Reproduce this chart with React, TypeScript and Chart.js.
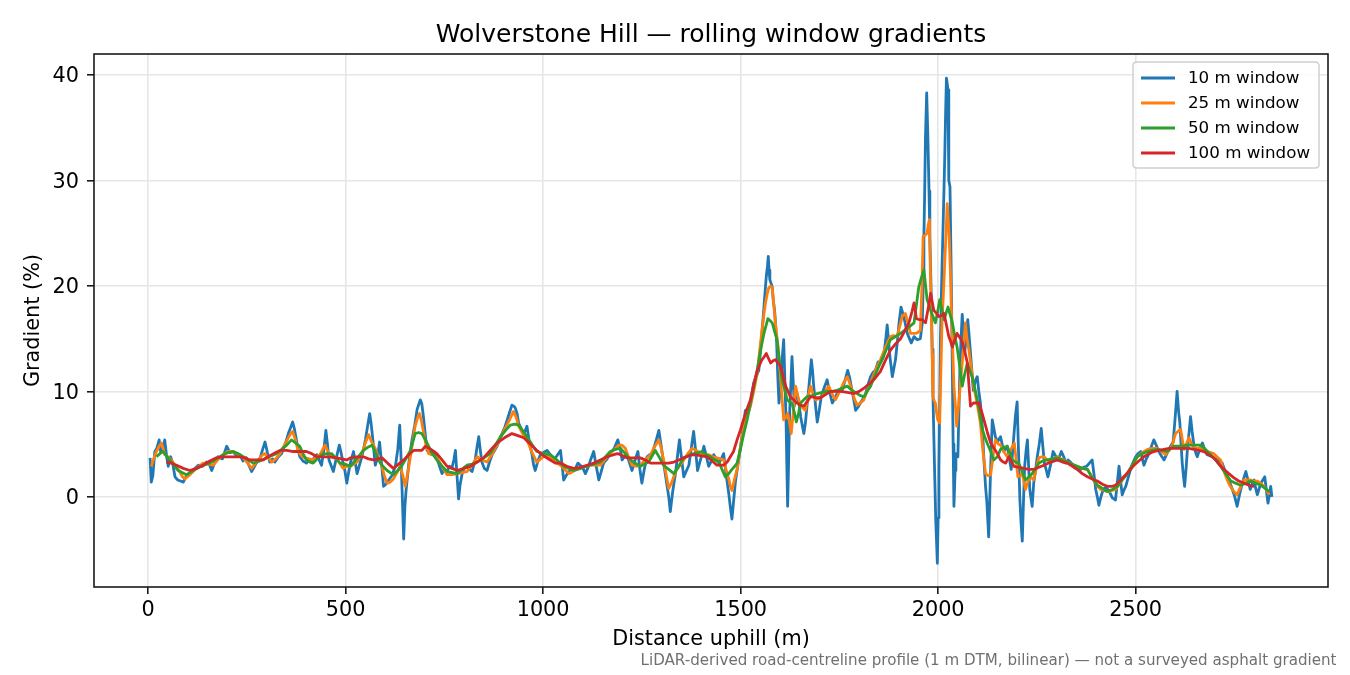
import React, { useEffect, useRef } from 'react';
import { Chart, registerables } from 'chart.js';

Chart.register(...registerables);

const chartTitle = 'Wolverstone Hill — rolling window gradients';
const xAxisTitle = 'Distance uphill (m)';
const yAxisTitle = 'Gradient (%)';
const footerNote = 'LiDAR-derived road-centreline profile (1 m DTM, bilinear) — not a surveyed asphalt gradient';

const seriesLabels = ['10 m window', '25 m window', '50 m window', '100 m window'];
const xTicks = [0, 500, 1000, 1500, 2000, 2500];
const yTicks = [0, 10, 20, 30, 40];

const dist10 = [5,8,12,17,22,28,32,37,42,47,51,57,62,68,75,82,89,97,106,116,127,138,148,155,161,168,177,188,199,207,215,224,232,240,249,255,262,268,275,283,290,296,302,308,315,321,330,338,347,355,361,366,370,374,379,384,392,401,408,414,420,427,433,439,445,450,454,458,463,469,476,484,488,492,498,503,508,512,520,529,535,541,546,550,556,561,565,569,575,580,586,591,596,602,609,617,626,632,637,640,643,647,650,653,660,668,675,681,689,693,697,702,706,712,718,724,730,737,744,750,757,763,769,774,778,782,786,790,795,801,807,814,820,828,833,837,841,845,851,858,865,871,877,883,890,896,903,909,915,921,926,930,934,938,945,951,955,959,965,972,976,980,986,993,1001,1010,1018,1027,1035,1044,1048,1052,1058,1065,1073,1082,1088,1094,1101,1107,1114,1121,1128,1134,1141,1147,1153,1162,1170,1180,1189,1195,1200,1206,1212,1218,1225,1232,1240,1245,1250,1256,1263,1270,1276,1285,1293,1299,1305,1312,1318,1322,1328,1335,1340,1345,1350,1356,1362,1369,1375,1381,1386,1391,1399,1407,1413,1419,1426,1432,1438,1445,1451,1457,1463,1470,1474,1478,1482,1487,1493,1500,1506,1512,1517,1521,1527,1533,1540,1546,1552,1556,1559,1562,1565,1568,1570,1572,1574,1580,1583,1586,1591,1594,1597,1600,1603,1606,1609,1612,1615,1617,1619,1621,1624,1627,1630,1633,1636,1640,1643,1648,1652,1656,1660,1664,1668,1673,1679,1682,1685,1690,1694,1699,1704,1711,1719,1725,1732,1738,1744,1750,1757,1764,1771,1776,1780,1786,1791,1797,1803,1810,1816,1822,1829,1835,1841,1848,1854,1862,1867,1871,1875,1878,1884,1892,1897,1901,1906,1913,1922,1932,1939,1947,1955,1960,1962,1964,1966,1968,1971,1974,1977,1979,1983,1985,1987,1989,1991,1994,1998,2000,2002,2004,2006,2010,2013,2017,2019,2021,2023,2025,2027,2030,2033,2036,2038,2040,2043,2045,2050,2055,2058,2061,2064,2067,2071,2075,2078,2082,2089,2094,2099,2103,2107,2112,2116,2120,2123,2128,2132,2137,2141,2145,2150,2158,2166,2175,2185,2189,2193,2196,2200,2203,2207,2210,2213,2216,2219,2223,2226,2229,2232,2238,2242,2247,2251,2256,2261,2265,2269,2274,2278,2285,2291,2297,2303,2308,2312,2318,2323,2329,2335,2341,2348,2355,2361,2368,2376,2383,2390,2395,2399,2403,2407,2412,2418,2424,2430,2436,2441,2445,2449,2454,2458,2462,2466,2470,2475,2481,2487,2493,2500,2506,2513,2517,2521,2527,2534,2540,2546,2552,2559,2565,2572,2578,2584,2590,2595,2600,2605,2609,2612,2615,2618,2621,2624,2628,2631,2635,2639,2643,2648,2652,2656,2662,2669,2675,2681,2688,2694,2700,2707,2713,2719,2726,2732,2739,2745,2751,2757,2763,2768,2774,2779,2785,2790,2795,2800,2804,2808,2813,2817,2822,2827,2831,2835,2839,2842,2845];
const grad10 = [3.7,1.4,2.0,4.3,4.6,5.4,4.2,4.4,5.4,3.8,2.9,3.8,3.2,1.9,1.6,1.5,1.4,2.0,2.2,2.6,3.0,2.9,3.3,3.1,2.5,3.2,3.8,3.6,4.8,4.2,4.3,3.9,4.0,3.4,3.7,3.0,2.4,2.8,3.3,3.6,4.5,5.2,4.2,3.3,3.6,3.3,3.8,4.1,5.0,6.0,6.6,7.1,6.5,5.7,4.6,3.8,3.4,3.2,3.5,3.3,3.7,4.0,3.5,3.0,4.5,6.3,5.0,3.5,3.0,2.4,3.6,4.9,4.3,3.5,2.5,1.3,2.4,3.2,4.3,2.2,3.0,3.8,4.6,5.4,6.8,7.9,6.8,5.4,3.0,3.6,5.2,3.2,1.0,1.2,1.6,2.0,2.9,4.5,6.8,4.0,0.6,-4.0,-1.0,0.6,3.2,5.4,6.8,8.3,9.2,8.8,7.6,5.8,4.4,4.2,4.0,4.3,3.8,3.0,2.2,2.6,2.4,2.9,2.7,3.5,4.4,2.0,-0.2,1.2,2.2,2.8,2.9,2.6,2.4,3.5,4.8,5.7,4.4,3.3,2.7,2.5,3.4,4.0,4.4,4.8,5.4,6.0,6.6,7.3,8.0,8.7,8.6,8.4,7.9,7.0,6.4,6.0,6.3,6.7,5.2,4.0,3.0,2.5,3.3,4.0,4.2,4.4,4.0,3.5,3.9,4.4,3.0,1.6,2.0,2.4,2.5,2.7,3.2,3.0,2.7,2.2,2.8,3.6,4.3,3.0,1.6,2.4,3.2,3.6,4.1,4.6,5.4,4.6,3.5,3.8,4.1,3.3,2.5,3.4,4.3,2.6,1.3,2.6,3.8,4.0,4.1,5.2,6.3,4.8,3.2,1.5,0.0,-1.4,0.5,2.2,3.8,5.4,3.8,1.9,2.4,3.0,4.6,6.2,4.4,2.5,3.6,4.8,3.9,2.9,3.4,4.0,3.6,3.2,3.6,4.1,2.2,0.3,-1.0,-2.1,-0.5,1.5,3.0,4.8,6.5,8.2,8.3,8.2,9.5,10.8,11.5,12.0,14.5,16.5,18.0,19.5,20.9,21.9,22.8,21.5,20.6,19.9,18.5,17.7,14.9,11.5,8.9,10.0,11.7,13.5,14.9,11.0,7.3,3.0,-0.9,2.5,7.9,10.5,13.3,11.0,8.6,9.8,9.8,8.8,7.6,6.8,6.0,7.0,8.6,10.5,13.0,12.0,10.5,8.5,7.1,8.2,9.5,10.3,11.1,10.0,8.9,9.3,9.8,10.0,10.1,11.0,12.0,11.3,10.5,9.3,8.2,8.5,8.9,9.3,9.7,10.6,11.4,11.8,12.0,12.8,12.7,13.3,14.8,16.3,14.6,13.3,11.4,13.0,14.8,16.5,18.0,17.1,15.5,14.6,15.2,14.9,15.0,16.5,20.0,24.7,29.0,34.2,38.3,34.2,29.0,24.7,18.4,14.0,9.5,6.0,2.6,-2.2,-6.3,-2.0,2.6,9.0,15.2,22.0,26.3,32.6,36.5,39.7,39.2,38.6,30.0,29.4,21.5,12.0,5.0,-0.9,2.5,4.1,3.8,12.0,15.0,17.3,15.5,13.6,15.0,16.8,15.5,13.6,10.1,11.0,11.4,10.0,8.9,6.5,3.5,1.0,-0.3,-3.8,1.5,7.3,6.5,5.7,5.2,5.7,4.3,4.8,2.6,4.5,6.4,7.8,9.0,5.0,-0.3,-2.5,-4.2,-0.5,2.9,4.5,5.4,3.0,0.7,-0.9,1.3,2.6,3.8,5.0,6.5,4.8,3.2,2.5,1.9,3.1,4.3,3.9,3.5,3.9,4.3,3.8,3.2,3.5,3.3,3.0,2.7,2.8,2.6,2.8,2.9,3.2,3.5,2.0,0.7,0.0,-0.8,0.0,0.7,0.9,0.7,0.3,-0.1,-0.2,-0.3,1.5,2.9,1.5,0.2,0.6,1.0,1.8,2.6,3.2,3.8,4.1,4.3,3.6,3.0,3.6,4.1,4.8,5.4,4.9,4.3,3.9,3.5,4.0,4.5,4.9,5.2,7.5,10.0,8.0,7.0,5.0,3.2,2.0,1.0,2.8,4.5,6.0,7.6,6.2,4.8,4.2,3.8,4.5,5.1,4.5,4.0,3.9,3.8,3.6,3.5,3.3,3.2,2.5,1.9,1.3,0.7,0.0,-0.9,0.2,1.0,1.8,2.4,1.5,0.7,1.2,1.6,0.8,0.2,0.8,1.3,1.6,1.9,0.6,-0.6,0.3,1.0,0.0];

const dist25 = [8,14,21,28,34,38,42,50,59,68,80,87,93,103,114,126,139,152,165,178,190,203,215,228,241,252,262,272,283,290,296,304,313,323,334,345,355,361,366,373,380,388,397,408,418,427,435,442,448,455,461,469,477,485,494,503,512,520,529,535,541,550,558,566,575,583,592,598,605,613,621,630,638,645,651,658,664,670,676,682,687,692,697,703,710,720,731,744,757,770,782,795,807,820,833,845,858,870,883,894,904,915,925,931,938,948,959,971,984,997,1010,1022,1035,1044,1055,1065,1080,1094,1107,1120,1133,1145,1158,1170,1180,1191,1200,1208,1216,1225,1235,1246,1258,1272,1283,1293,1299,1305,1312,1318,1326,1335,1345,1356,1366,1377,1388,1398,1408,1419,1430,1440,1449,1457,1463,1470,1474,1478,1484,1491,1499,1508,1517,1525,1533,1542,1548,1554,1559,1563,1567,1571,1576,1580,1584,1588,1594,1599,1604,1609,1614,1619,1624,1628,1634,1639,1645,1652,1658,1664,1670,1677,1683,1690,1698,1706,1714,1723,1731,1740,1748,1757,1763,1770,1776,1782,1788,1795,1803,1812,1820,1829,1837,1846,1854,1867,1879,1887,1896,1903,1909,1917,1924,1930,1937,1943,1949,1955,1959,1962,1967,1972,1975,1978,1980,1982,1985,1987,1990,1993,1996,1999,2004,2007,2010,2013,2016,2020,2023,2026,2028,2031,2033,2037,2040,2044,2047,2050,2053,2057,2061,2065,2069,2073,2078,2084,2090,2099,2107,2113,2120,2127,2133,2139,2145,2153,2158,2166,2175,2184,2193,2202,2207,2213,2217,2221,2226,2232,2237,2242,2248,2255,2262,2268,2276,2285,2293,2302,2310,2318,2327,2335,2344,2352,2365,2378,2386,2394,2402,2411,2421,2432,2440,2449,2457,2466,2476,2487,2495,2504,2517,2530,2542,2555,2566,2576,2585,2593,2597,2601,2607,2614,2618,2622,2628,2635,2641,2648,2656,2665,2673,2681,2690,2698,2706,2715,2723,2732,2738,2745,2751,2757,2765,2774,2782,2791,2800,2808,2816,2825,2832,2838];
const grad25 = [2.9,3.6,4.3,4.8,5.1,4.6,4.0,3.8,3.5,3.0,2.4,1.9,1.7,2.0,2.4,2.8,3.2,3.1,3.0,3.6,4.0,4.3,4.3,4.0,3.7,3.2,2.7,3.2,3.7,4.0,4.1,3.7,3.3,3.6,4.1,4.9,5.6,6.0,6.2,5.4,4.3,3.9,3.7,3.6,3.5,3.8,4.0,4.5,4.9,4.3,3.8,3.7,3.7,3.2,2.7,2.9,2.9,3.1,3.3,3.7,4.1,5.1,5.9,5.2,4.6,3.7,2.9,2.0,1.3,1.4,1.7,2.3,2.9,2.0,1.0,2.4,3.8,5.3,6.7,7.5,7.9,7.2,6.2,5.0,4.1,4.0,3.7,2.9,2.1,2.1,2.2,2.3,2.4,3.0,3.8,3.5,3.3,4.0,4.9,5.8,6.5,7.3,8.1,7.6,6.7,6.0,5.4,4.3,3.3,3.7,4.0,3.6,3.2,3.0,2.6,2.2,2.5,2.7,2.9,3.0,3.0,3.0,3.6,4.1,4.5,4.9,4.9,4.6,3.8,3.0,2.9,3.0,3.5,4.0,4.8,5.4,4.6,3.5,2.0,0.8,1.4,2.4,2.9,3.5,4.1,4.6,4.4,4.1,4.0,4.0,3.8,3.7,3.6,3.5,2.6,1.7,1.0,0.6,1.6,2.6,4.6,6.7,7.7,8.6,10.0,11.7,13.8,15.8,17.3,18.4,19.2,19.8,20.0,19.8,18.2,16.5,14.5,12.4,9.8,7.3,7.5,7.9,7.0,6.0,8.3,10.5,9.5,8.6,8.4,8.2,9.4,10.5,9.8,9.2,9.3,9.5,10.0,10.5,9.8,9.2,9.8,10.5,11.0,11.4,10.8,10.1,9.3,8.7,8.9,9.2,10.0,10.8,11.6,12.4,13.0,14.2,15.2,15.3,15.2,16.2,17.1,17.4,16.4,15.5,15.5,15.5,15.6,15.8,20.0,24.7,24.8,25.0,25.8,26.3,22.0,18.4,13.5,9.5,9.1,8.9,8.0,7.3,7.0,12.0,16.8,19.0,21.5,25.0,27.8,26.0,24.7,21.5,18.4,14.0,10.5,8.5,6.7,8.0,9.2,11.0,12.7,14.6,16.5,15.0,13.9,12.2,10.5,8.8,7.0,4.5,2.2,2.0,2.1,3.8,5.4,5.0,4.9,4.3,3.8,4.5,5.1,1.9,2.0,2.2,1.5,0.7,1.3,1.9,1.8,1.6,2.6,3.7,3.8,3.8,3.5,3.3,3.6,3.8,3.6,3.5,3.3,3.2,3.0,2.9,2.7,2.6,2.1,1.6,1.1,0.7,0.6,0.5,0.6,0.7,1.1,1.6,2.1,2.7,3.2,3.8,4.2,4.5,4.6,4.6,4.3,4.0,4.4,4.9,5.5,6.0,6.2,6.4,5.5,4.5,5.0,5.6,5.1,4.6,4.6,4.6,4.4,4.3,4.2,4.1,3.8,3.5,2.5,1.6,1.1,0.7,0.4,0.2,0.9,1.6,1.6,1.6,1.5,1.5,1.3,1.0,0.6,0.2];

const dist50 = [21,30,38,46,55,65,76,86,97,110,123,140,156,173,190,203,215,228,241,254,266,283,300,312,325,338,351,363,374,384,392,401,410,418,428,439,452,465,476,486,498,512,528,545,556,567,578,588,597,605,613,621,632,643,654,664,670,676,685,693,702,710,720,731,744,757,770,782,795,807,820,833,850,866,879,892,905,917,928,938,948,959,971,984,1001,1018,1035,1052,1065,1077,1094,1111,1128,1145,1158,1170,1183,1196,1208,1221,1233,1246,1256,1267,1276,1284,1295,1305,1318,1331,1343,1356,1368,1381,1392,1402,1413,1424,1435,1445,1453,1461,1470,1478,1485,1491,1500,1508,1517,1525,1533,1542,1550,1559,1564,1569,1575,1580,1586,1592,1598,1605,1612,1618,1624,1630,1636,1641,1647,1652,1660,1668,1681,1694,1706,1719,1731,1744,1757,1770,1782,1795,1803,1812,1820,1829,1841,1854,1867,1879,1892,1905,1915,1926,1939,1945,1951,1957,1964,1968,1972,1977,1981,1987,1993,1999,2004,2010,2015,2020,2025,2031,2036,2042,2048,2055,2061,2067,2074,2080,2086,2093,2099,2106,2112,2118,2124,2133,2141,2150,2158,2166,2175,2182,2188,2196,2204,2213,2221,2230,2238,2247,2255,2265,2276,2289,2302,2315,2327,2340,2352,2365,2378,2390,2403,2416,2428,2441,2454,2466,2479,2491,2504,2517,2530,2542,2555,2568,2580,2589,2597,2608,2618,2628,2639,2652,2665,2677,2690,2703,2715,2728,2741,2753,2766,2779,2791,2804,2817,2828,2838];
const grad50 = [3.8,4.1,4.3,3.9,3.5,3.0,2.5,2.3,2.1,2.4,2.7,3.0,3.2,3.6,4.0,4.2,4.3,4.1,3.8,3.5,3.2,3.4,3.7,3.9,4.1,4.5,4.9,5.4,5.1,4.8,4.1,3.5,3.3,3.2,3.6,4.0,4.1,4.1,3.6,3.2,3.1,2.9,3.6,4.4,4.7,4.9,4.0,3.2,2.8,2.5,2.3,2.1,2.5,3.0,3.7,4.4,5.2,6.0,6.1,6.0,5.4,4.8,4.1,3.5,2.9,2.4,2.3,2.2,2.6,3.0,3.1,3.3,3.7,4.1,4.9,5.7,6.3,6.8,6.9,6.8,6.3,5.7,5.0,4.3,4.1,4.0,3.5,2.9,2.7,2.5,2.7,2.9,3.1,3.3,3.8,4.3,4.5,4.6,4.1,3.5,3.2,2.9,3.1,3.3,3.9,4.4,3.7,3.0,2.6,2.2,2.9,3.7,3.9,4.1,4.2,4.3,4.0,3.8,3.5,3.3,2.6,1.9,2.2,2.6,2.9,3.2,4.6,6.0,7.4,8.9,10.4,12.0,13.8,15.5,16.2,16.9,16.7,16.5,15.7,14.9,13.0,11.1,10.1,9.2,9.0,8.9,8.0,7.1,8.0,8.9,9.2,9.5,9.6,9.8,9.9,10.0,10.0,10.1,10.3,10.5,10.1,9.8,9.6,9.5,10.0,10.5,11.6,12.7,13.8,14.9,15.2,15.5,15.8,16.1,16.5,18.2,19.9,20.7,21.5,20.1,18.7,18.2,17.7,17.1,16.5,17.6,18.7,17.7,16.8,17.4,18.0,17.2,16.5,15.3,14.2,12.3,10.5,11.6,12.7,12.0,11.4,10.3,9.2,7.8,6.4,5.7,5.1,4.3,3.5,3.8,4.5,4.7,4.8,4.1,3.5,3.3,3.2,2.4,1.6,1.9,2.2,2.7,3.2,3.4,3.5,3.6,3.7,3.5,3.3,3.1,2.9,2.7,2.6,1.8,1.1,0.8,0.5,0.7,1.0,1.6,2.2,3.0,3.8,4.1,4.3,4.4,4.5,4.4,4.3,4.6,4.8,4.8,4.8,4.9,4.9,4.9,4.9,4.5,4.0,3.5,2.9,2.2,1.5,1.3,1.1,1.3,1.5,1.3,1.1,0.8,0.5];

const dist100 = [46,59,72,89,106,122,139,156,173,186,199,215,232,245,258,275,292,303,313,323,334,351,368,385,401,414,427,440,452,465,477,490,503,512,528,545,558,571,582,592,606,621,634,647,660,672,682,693,702,716,731,744,757,770,782,799,816,833,849,866,883,902,921,936,951,968,984,1001,1018,1031,1044,1060,1077,1094,1111,1128,1145,1162,1179,1188,1196,1212,1229,1246,1259,1272,1288,1305,1318,1331,1344,1356,1369,1381,1398,1415,1428,1440,1449,1457,1466,1474,1482,1491,1500,1508,1516,1525,1533,1542,1548,1554,1560,1565,1571,1576,1582,1588,1594,1601,1608,1614,1620,1626,1634,1643,1651,1660,1668,1677,1690,1702,1715,1728,1740,1753,1770,1787,1800,1812,1825,1837,1850,1854,1866,1879,1892,1905,1915,1926,1934,1939,1945,1953,1960,1968,1975,1981,1985,1989,1996,2002,2009,2015,2021,2027,2032,2036,2042,2048,2055,2061,2068,2074,2078,2082,2086,2090,2097,2103,2110,2116,2124,2133,2142,2150,2158,2165,2171,2179,2186,2192,2205,2217,2230,2242,2255,2268,2285,2302,2315,2327,2340,2352,2365,2378,2390,2403,2416,2428,2440,2449,2460,2470,2483,2496,2508,2521,2534,2546,2559,2572,2585,2597,2610,2622,2635,2648,2660,2673,2685,2698,2711,2724,2736,2749,2761,2774,2787,2800];
const grad100 = [3.3,3.2,3.0,2.7,2.5,2.7,3.0,3.4,3.7,3.8,3.8,3.8,3.8,3.7,3.5,3.5,3.5,3.8,4.0,4.2,4.4,4.4,4.3,4.3,4.3,4.1,3.8,3.8,3.8,3.8,3.7,3.6,3.5,3.7,3.8,3.8,3.6,3.5,3.6,3.7,3.2,2.7,3.1,3.5,4.0,4.4,4.4,4.4,4.8,4.5,4.1,3.5,2.9,2.7,2.5,2.7,2.9,3.3,3.7,4.4,5.1,5.6,6.0,5.8,5.6,5.0,4.4,3.9,3.5,3.2,3.2,2.9,2.7,2.8,3.0,3.2,3.5,3.8,4.0,4.1,4.0,3.7,3.7,3.7,3.5,3.2,3.2,3.2,3.2,3.3,3.5,3.7,3.9,4.0,3.9,3.8,3.4,3.0,3.0,3.0,3.3,3.8,4.3,5.4,6.4,7.4,8.3,9.2,10.6,12.0,12.5,13.0,13.3,13.6,13.1,12.7,12.9,13.0,12.7,12.4,11.4,10.5,10.0,9.5,9.2,8.9,8.7,8.6,9.0,9.5,9.4,9.4,9.7,10.0,10.0,10.0,9.9,9.8,10.0,10.3,10.7,11.1,11.7,11.9,12.9,13.9,14.5,15.0,15.7,16.5,17.6,18.4,16.9,16.8,16.8,16.5,17.9,19.3,18.5,17.7,17.4,17.1,17.2,17.4,16.3,15.2,14.7,14.2,14.9,15.5,15.1,14.7,13.7,12.7,10.6,8.6,8.8,8.9,8.9,8.9,8.1,7.3,6.2,5.1,4.6,4.1,3.5,3.3,3.2,3.8,3.3,2.9,2.8,2.7,2.6,2.6,2.8,3.0,3.3,3.5,3.3,3.2,2.9,2.6,2.2,1.9,1.7,1.5,1.2,1.0,1.0,1.1,1.5,1.9,2.4,3.0,3.4,3.8,4.1,4.3,4.4,4.5,4.6,4.6,4.6,4.6,4.6,4.5,4.4,4.3,4.0,3.7,3.1,2.6,2.2,1.8,1.5,1.3,1.1,1.0];

const seriesDist = [dist10, dist25, dist50, dist100];
const seriesGrad = [grad10, grad25, grad50, grad100];
const seriesColors = ['#1f77b4', '#ff7f0e', '#2ca02c', '#d62728'];

const FONT = '"DejaVu Sans", "Liberation Sans", sans-serif';

const decorPlugin = {
  id: 'decor',
  beforeDraw(chart: any) {
    const { ctx, width, height } = chart;
    ctx.save();
    ctx.fillStyle = '#ffffff';
    ctx.fillRect(0, 0, width, height);
    ctx.restore();
  },
  afterDraw(chart: any) {
    const { ctx, chartArea: a } = chart;
    ctx.save();
    // frame
    ctx.strokeStyle = '#1a1a1a';
    ctx.lineWidth = 1.6;
    ctx.strokeRect(a.left, a.top, a.right - a.left, a.bottom - a.top);
    // title
    ctx.fillStyle = '#000000';
    ctx.font = `25px ${FONT}`;
    ctx.textAlign = 'center';
    ctx.textBaseline = 'alphabetic';
    ctx.fillText(chartTitle, (a.left + a.right) / 2, a.top - 12.5);
    // footer
    ctx.fillStyle = '#707070';
    ctx.font = `15.1px ${FONT}`;
    ctx.textAlign = 'right';
    ctx.textBaseline = 'bottom';
    ctx.fillText(footerNote, 1336.5, 669);
    // legend
    const bx = a.right - 195, by = a.top + 8, bw = 186, bh = 106, r = 4;
    ctx.beginPath();
    ctx.moveTo(bx + r, by);
    ctx.lineTo(bx + bw - r, by);
    ctx.quadraticCurveTo(bx + bw, by, bx + bw, by + r);
    ctx.lineTo(bx + bw, by + bh - r);
    ctx.quadraticCurveTo(bx + bw, by + bh, bx + bw - r, by + bh);
    ctx.lineTo(bx + r, by + bh);
    ctx.quadraticCurveTo(bx, by + bh, bx, by + bh - r);
    ctx.lineTo(bx, by + r);
    ctx.quadraticCurveTo(bx, by, bx + r, by);
    ctx.closePath();
    ctx.fillStyle = 'rgba(255,255,255,0.8)';
    ctx.fill();
    ctx.strokeStyle = '#d0d0d0';
    ctx.lineWidth = 1.5;
    ctx.stroke();
    ctx.font = `16.7px ${FONT}`;
    ctx.textAlign = 'left';
    ctx.textBaseline = 'middle';
    chart.data.datasets.forEach((ds: any, i: number) => {
      const y = by + 16 + i * 25;
      ctx.strokeStyle = ds.borderColor;
      ctx.lineWidth = 2.8;
      ctx.beginPath();
      ctx.moveTo(bx + 8, y);
      ctx.lineTo(bx + 42, y);
      ctx.stroke();
      ctx.fillStyle = '#000000';
      ctx.fillText(ds.label, bx + 55, y + 1);
    });
    ctx.restore();
  },
};

export default function App() {
  const ref = useRef<HTMLCanvasElement>(null);
  useEffect(() => {
    document.body.style.margin = '0';
    if (!ref.current) return;
    Chart.defaults.font.family = FONT;
    const datasets = seriesLabels.map((label, i) => ({
      label,
      data: seriesDist[i].map((x, j) => ({ x, y: seriesGrad[i][j] })),
      borderColor: seriesColors[i],
      backgroundColor: seriesColors[i],
      borderWidth: 2.8,
      pointRadius: 0,
      pointHoverRadius: 0,
      tension: 0,
      fill: false,
      borderJoinStyle: 'round' as const,
      order: seriesLabels.length - i,
    }));
    const gridCommon = {
      color: '#e6e6e6',
      lineWidth: 1.6,
      tickColor: '#1a1a1a',
      tickLength: 7,
      tickWidth: 1.6,
      drawTicks: true,
    };
    const chart = new Chart(ref.current, {
      type: 'line',
      data: { datasets },
      options: {
        animation: false,
        responsive: false,
        devicePixelRatio: 1,
        layout: { padding: { left: 0, right: 22, top: 54, bottom: 0 } },
        plugins: {
          legend: { display: false },
          title: { display: false },
          tooltip: { enabled: false },
        },
        scales: {
          x: {
            type: 'linear',
            min: -137,
            max: 2987,
            afterBuildTicks: (s: any) => {
              s.ticks = xTicks.map((v) => ({ value: v }));
            },
            afterFit: (s: any) => {
              s.height = 88;
            },
            grid: gridCommon,
            border: { display: false },
            ticks: {
              font: { size: 20.8 },
              color: '#000000',
              padding: 4,
              maxRotation: 0,
              autoSkip: false,
              callback: (v: any) => String(v),
            },
            title: {
              display: true,
              text: xAxisTitle,
              font: { size: 20.8 },
              color: '#000000',
              padding: { top: 0, bottom: 23 },
            },
          },
          y: {
            type: 'linear',
            min: -8.55,
            max: 42.0,
            afterBuildTicks: (s: any) => {
              s.ticks = yTicks.map((v) => ({ value: v }));
            },
            afterFit: (s: any) => {
              s.width = 94;
            },
            grid: gridCommon,
            border: { display: false },
            ticks: {
              font: { size: 20.8 },
              color: '#000000',
              padding: 8,
              labelOffset: 2,
              autoSkip: false,
              callback: (v: any) => String(v),
            },
            title: {
              display: true,
              text: yAxisTitle,
              font: { size: 20.8 },
              color: '#000000',
              padding: { top: 21, bottom: 0 },
            },
          },
        },
      },
      plugins: [decorPlugin],
    });
    return () => chart.destroy();
  }, []);
  return (
    <div style={{ position: 'absolute', left: 0, top: 0, width: 1350, height: 675 }}>
      <canvas ref={ref} width={1350} height={675} style={{ display: 'block', width: 1350, height: 675 }} />
    </div>
  );
}
